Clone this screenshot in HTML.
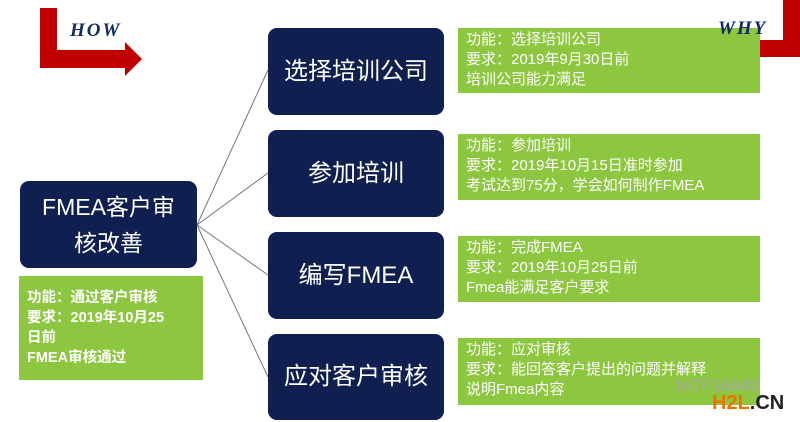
<!DOCTYPE html>
<html><head><meta charset="utf-8"><style>
body{margin:0;width:800px;height:422px;background:#fff;position:relative;overflow:hidden;font-family:"Liberation Sans","Noto Sans CJK SC",sans-serif}
.n{position:absolute;background:#0f1f4f;border-radius:9px;color:#fff;display:flex;align-items:center;justify-content:center;text-align:center;font-size:24px;line-height:36px}
.g{position:absolute;background:#8dc63f;color:#fff;font-size:15px;line-height:20px;padding:2px 0 0 8px;box-sizing:border-box;white-space:nowrap}
.lb{position:absolute;font-family:"Liberation Serif",serif;font-style:italic;font-weight:bold;color:#0f2a66;font-size:19px;letter-spacing:2px}
</style></head><body>
<svg width="800" height="422" style="position:absolute;left:0;top:0">
<g stroke="#777" stroke-width="1" fill="none">
<line x1="197" y1="225" x2="268" y2="70"/>
<line x1="197" y1="225" x2="268" y2="173"/>
<line x1="197" y1="225" x2="268" y2="275"/>
<line x1="197" y1="225" x2="268" y2="377"/>
</g>
<polygon fill="#c00000" points="40,8 57,8 57,50 125,50 125,42 142,59 125,76 125,68 40,68"/>
<polygon fill="#c00000" points="800,0 783,0 783,40 713,40 713,32 697,49 713,66 713,57 800,57"/>
</svg>
<div class="lb" style="left:70px;top:20px">HOW</div>
<div class="n" style="left:20px;top:181px;width:177px;height:87px;font-size:23px">FMEA客户审<br>核改善</div>
<div class="g" style="left:19px;top:276px;width:184px;height:104px;font-weight:bold;font-size:14.5px;padding-top:12px">功能：通过客户审核<br>要求：2019年10月25<br>日前<br>FMEA审核通过</div>
<div class="n" style="left:268px;top:28px;width:176px;height:87px">选择培训公司</div>
<div class="n" style="left:268px;top:130px;width:176px;height:87px">参加培训</div>
<div class="n" style="left:268px;top:232px;width:176px;height:87px">编写FMEA</div>
<div class="n" style="left:268px;top:334px;width:176px;height:86px">应对客户审核</div>
<div class="g" style="left:458px;top:28px;width:302px;height:65px">功能：选择培训公司<br>要求：2019年9月30日前<br>培训公司能力满足</div>
<div class="g" style="left:458px;top:134px;width:302px;height:66px">功能：参加培训<br>要求：2019年10月15日准时参加<br>考试达到75分，学会如何制作FMEA</div>
<div class="g" style="left:458px;top:236px;width:302px;height:66px">功能：完成FMEA<br>要求：2019年10月25日前<br>Fmea能满足客户要求</div>
<div class="g" style="left:458px;top:338px;width:302px;height:67px">功能：应对审核<br>要求：能回答客户提出的问题并解释<br>说明Fmea内容</div>
<div class="lb" style="left:718px;top:18px">WHY</div>
<div style="position:absolute;left:676px;top:376px;color:#aaa;font-size:17px">IATF16949</div>
<div style="position:absolute;left:712px;top:392px;font-size:20px;font-weight:bold;color:#f07000">H2L<span style="color:#222">.CN</span></div>
</body></html>
